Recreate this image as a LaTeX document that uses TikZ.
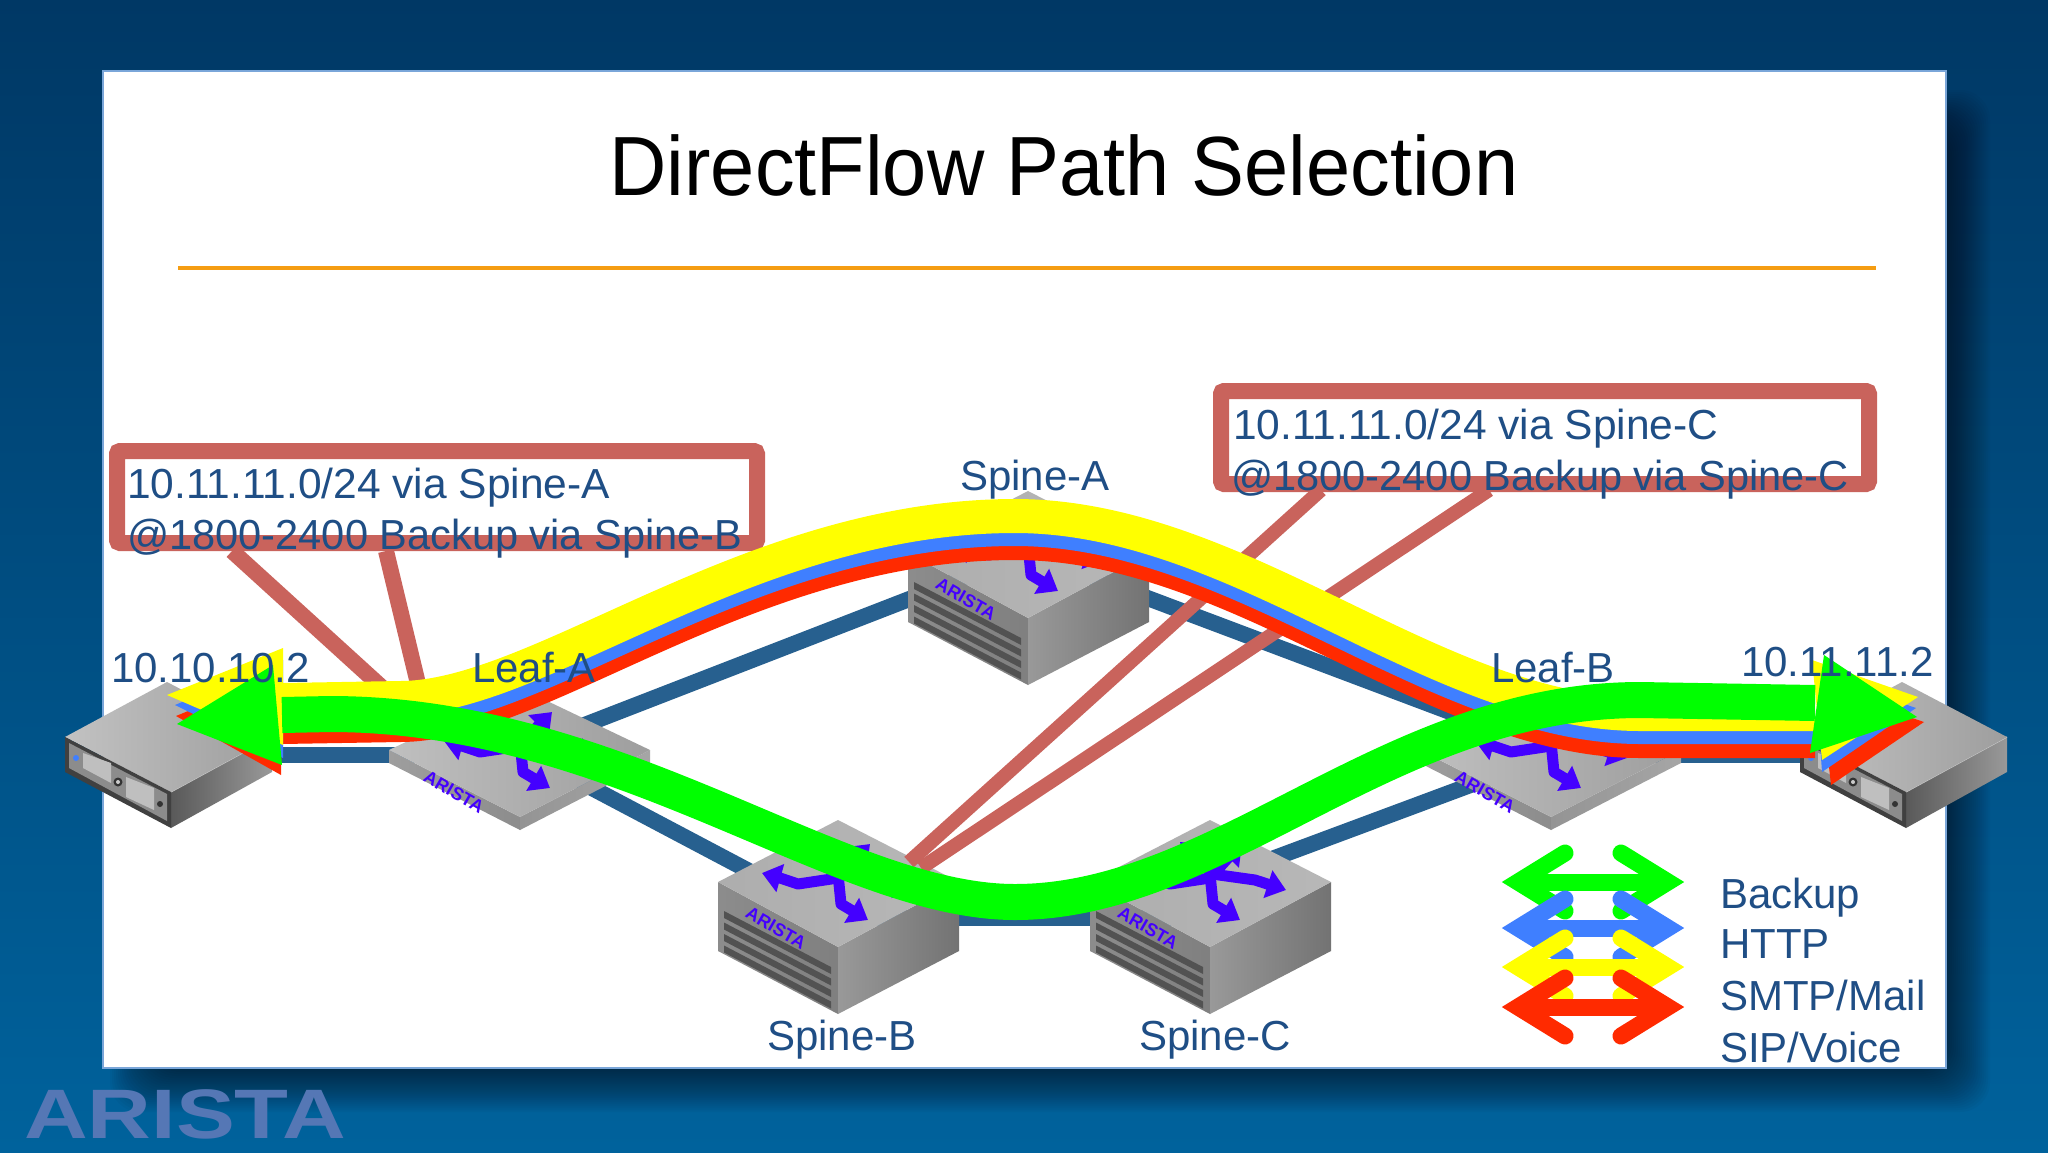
\documentclass[tikz,border=0pt]{standalone}
\usepackage{fontspec}
\setmainfont{Liberation Sans}
\usetikzlibrary{arrows.meta,calc}
\definecolor{inktext}{HTML}{1F4E85}
\definecolor{salmonc}{HTML}{C9635C}
\definecolor{linkc}{HTML}{27608F}
\definecolor{ryellow}{HTML}{FFFF00}
\definecolor{rblue}{HTML}{3F7FFF}
\definecolor{rred}{HTML}{FF2A00}
\definecolor{rgreen}{HTML}{00FF00}
\definecolor{iconc}{HTML}{4400FF}
\definecolor{logoc}{HTML}{5577B5}
\definecolor{rulec}{HTML}{F59D12}
\definecolor{bgtop}{HTML}{003865}
\definecolor{bgbot}{HTML}{00629C}
\definecolor{slideedge}{HTML}{7AA6D9}
\tikzset{
  lbl/.style={anchor=base west,inner sep=0pt,text=inktext,font=\fontsize{42}{42}\selectfont},
  linkline/.style={draw=linkc,line width=16pt},
  salmonline/.style={draw=salmonc,line width=16pt},
  salmonthin/.style={draw=salmonc,line width=14pt},
  salmonbox/.style={draw=salmonc,line width=16pt,rounded corners=3pt,fill=white,inner sep=0pt},
  sw/.style={draw=iconc,line width=11pt,line join=round,-{Triangle[length=19pt,width=28pt]}},
  ribbon/.style={line width=34pt},
  legbarb/.style={line width=17pt,line cap=round,line join=miter,miter limit=10},
  legshaft/.style={line width=17pt},
  brandmark/.style={text=iconc,inner sep=0pt,rotate=-30,font=\fontsize{18}{18}\selectfont\bfseries},
  swarrows/.pic={
    \draw[sw] (0,-4)--(-40,2)--(-58,-4)--(-76,-9);
    \draw[sw] (0,-4)--(18,-24)--(32,-38);
    \draw[sw] (2,-8)--(-12,-24)--(-30,-40);
    \draw[sw] (2,-8)--(45,-2)--(76,8);
    \draw[sw] (0,-8)--(3,22)--(30,38);
  },
  leafbox/.pic={
    \shade[left color=black!38,right color=black!45] (-131,0)--(0,67)--(0,80)--(-131,13)--cycle;
    \shade[left color=black!42,right color=black!35] (0,67)--(130,0)--(130,13)--(0,80)--cycle;
    \shade[left color=black!25,right color=black!38] (-131,0)--(0,-62)--(130,0)--(0,67)--cycle;
    \pic {swarrows};
    \node[brandmark] (brand) at (-66,42) {ARISTA};
  },
  spinebox/.pic={
    \shade[left color=black!45,right color=black!50] (-120,0)--(0,65)--(0,132)--(-120,69)--cycle;
    \shade[left color=black!40,right color=black!55] (0,65)--(121,0)--(121,69)--(0,132)--cycle;
    \shade[left color=black!32,right color=black!28] (-120,0)--(0,-62)--(121,0)--(0,65)--cycle;
    \foreach \r in {0,1,2,3}{
      \fill[black!68] (-114,{29+11.5*\r})--(-7,{85+11.5*\r})--(-7,{92+11.5*\r})--(-114,{36+11.5*\r})--cycle;
    }
    \pic {swarrows};
    \node[brandmark] (brand) at (-62,46) {ARISTA};
  },
  serverbox/.pic={
    \shade[left color=black!65,right color=black!40] (106,55)--(207,0)--(207,35)--(106,91)--cycle;
    \draw[white!80!black,line width=1pt] (106,55)--(207,0);
    \shade[left color=black!24,right color=black!38] (0,0)--(102,-55)--(207,0)--(106,55)--cycle;
    \fill[black!75] (0,0)--(106,55)--(106,91)--(0,35)--cycle;
    \fill[black!45] (4,6)--(102,57)--(102,84)--(4,31)--cycle;
    \fill[black!25] (18,16)--(46,26)--(46,46)--(18,31)--cycle;
    \fill[black!25] (61,40)--(89,51)--(89,73)--(61,60)--cycle;
    \fill[black!80] (53,45) circle[radius=4.5pt];
    \fill[black!20] (53,45) circle[radius=2pt];
    \fill[black!80] (95,67) circle[radius=3pt];
    \fill[rblue] (11,21) circle[radius=3pt];
  },
}
\newcommand{\yellowpath}{(282,700)--(400,698) .. controls (540,698) and (748,516) .. (1015,516) .. controls (1240,516) and (1435,714) .. (1640,714) -- (1815,714)}
\newcommand{\greenpath}{(282,715)--(330,714) .. controls (620,714) and (839,902) .. (1015,902) .. controls (1220,902) and (1388,700) .. (1640,700) -- (1815,703)}
\begin{document}
\begin{tikzpicture}[x=1pt,y=-1pt]
\useasboundingbox (0,0) rectangle (2048,1152);
% background and slide
\shade[top color=bgtop,bottom color=bgbot] (0,0) rectangle (2048,1152);
\foreach \i in {2,4,...,44}{\fill[black,opacity=.026,rounded corners=30pt] ({154-\i},{134-\i}) rectangle ({1946+\i},{1068+\i});}
\node[draw=slideedge,line width=2pt,fill=white,inner sep=0pt,minimum width=1843pt,minimum height=997pt] (slide) at (1024.5,569.5) {};
\node[anchor=base west,inner sep=0pt,text=logoc,font=\fontsize{70}{70}\selectfont\bfseries] (logo) at (24,1138) {\scalebox{1.26}[1]{ARISTA}};
% title
\node[anchor=base,inner sep=0pt,text=black,font=\fontsize{84}{84}\selectfont] (title) at (1064,195) {\scalebox{.945}[1]{DirectFlow Path Selection}};
\coordinate (ruleL) at (178,268); \coordinate (ruleR) at (1876,268);
\draw[rulec,line width=4pt] (ruleL)--(ruleR);
% anchors
\coordinate (srvA) at (173,755); \coordinate (srvB) at (1906,755);
\coordinate (leafA) at (520,750); \coordinate (leafB) at (1551,750);
\coordinate (leafAl) at (520,755); \coordinate (leafBl) at (1551,755);
\coordinate (spineA) at (1028,553); \coordinate (spineB) at (838,882); \coordinate (spineC) at (1210,882);
\coordinate (spineBc) at (838,918); \coordinate (spineCc) at (1210,918);
% links
\draw[linkline] (srvA)--(leafAl);
\draw[linkline] (leafBl)--(srvB);
\draw[linkline] (leafA)--(spineA);
\draw[linkline] (spineA)--(leafB);
\draw[linkline] (leafA)--(spineBc);
\draw[linkline] (spineBc)--(spineCc);
\draw[linkline] (spineC)--(leafBl);
% devices
\pic (srvAicon) at (65,737) {serverbox};
\pic (srvBicon) at (1800,737) {serverbox};
\pic (leafAicon) at (520,750) {leafbox};
\pic (leafBicon) at (1551,750) {leafbox};
\pic (spineAicon) at (1028,553) {spinebox};
\pic (spineBicon) at (838,882) {spinebox};
\pic (spineCicon) at (1210,882) {spinebox};
% callouts
\coordinate (s1a) at (232,551); \coordinate (s1b) at (387,692);
\coordinate (s2a) at (386,551); \coordinate (s2b) at (420,692);
\coordinate (s3a) at (1321,490); \coordinate (s3b) at (909,862);
\coordinate (s4a) at (1489,490); \coordinate (s4b) at (921,868);
\draw[salmonline] (s1a)--(s1b);
\draw[salmonline] (s2a)--(s2b);
\draw[salmonthin] (s3a)--(s3b);
\draw[salmonthin] (s4a)--(s4b);
\node[salmonbox,minimum width=640pt,minimum height=92pt] (boxL) at (437,497) {};
\node[salmonbox,minimum width=648pt,minimum height=93pt] (boxR) at (1545,437.5) {};
% ribbons
\begin{scope}[shift={(0,27)}]
  \draw[rred,ribbon] \yellowpath;
\end{scope}
\fill[rred] (283,672)--(176,716)--(281,775)--cycle;
\fill[rred] (1820,687)--(1924,722)--(1831,785)--cycle;
\begin{scope}[shift={(0,13)}]
  \draw[rblue,ribbon] \yellowpath;
\end{scope}
\fill[rblue] (283,660)--(175,705)--(283,758)--cycle;
\fill[rblue] (1815,673)--(1916,708)--(1822,772)--cycle;
\draw[ryellow,ribbon] \yellowpath;
\fill[ryellow] (283,648)--(167,695)--(283,745)--cycle;
\fill[ryellow] (1812,660)--(1918,697)--(1822,760)--cycle;
\draw[rgreen,line width=36pt] \greenpath;
\fill[rgreen] (273,665)--(177,724)--(282,765)--cycle;
\fill[rgreen] (1824,655)--(1917,717)--(1810,753)--cycle;
% legend
\foreach \c/\y in {rgreen/882,rblue/928,ryellow/967,rred/1007}{
  \draw[\c,legbarb] (1565,{\y-29})--(1518,\y)--(1565,{\y+29});
  \draw[\c,legbarb] (1621,{\y-29})--(1668,\y)--(1621,{\y+29});
  \draw[\c,legshaft] (1518,\y)--(1668,\y);
}
% labels
\node[lbl] (ipA) at (111,682) {10.10.10.2};
\node[lbl] (ipB) at (1741,676) {10.11.11.2};
\node[lbl] (tLeafA) at (472,682) {Leaf-A};
\node[lbl] (tLeafB) at (1491,682) {Leaf-B};
\node[lbl] (tSpineA) at (960,490) {Spine-A};
\node[lbl] (tSpineB) at (767,1050) {Spine-B};
\node[lbl] (tSpineC) at (1139,1050) {Spine-C};
\node[lbl] (l1a) at (127,498) {\scalebox{1.012}[1]{10.11.11.0/24 via Spine-A}};
\node[lbl] (l1b) at (127,549) {\scalebox{.99}[1]{@1800-2400 Backup via Spine-B}};
\node[lbl] (l2a) at (1233,439) {\scalebox{1.012}[1]{10.11.11.0/24 via Spine-C}};
\node[lbl] (l2b) at (1231,490) {\scalebox{.99}[1]{@1800-2400 Backup via Spine-C}};
\node[lbl] (lg1) at (1720,908) {Backup};
\node[lbl] (lg2) at (1720,958) {HTTP};
\node[lbl] (lg3) at (1720,1010) {SMTP/Mail};
\node[lbl] (lg4) at (1720,1062) {SIP/Voice};
\end{tikzpicture}
\end{document}
